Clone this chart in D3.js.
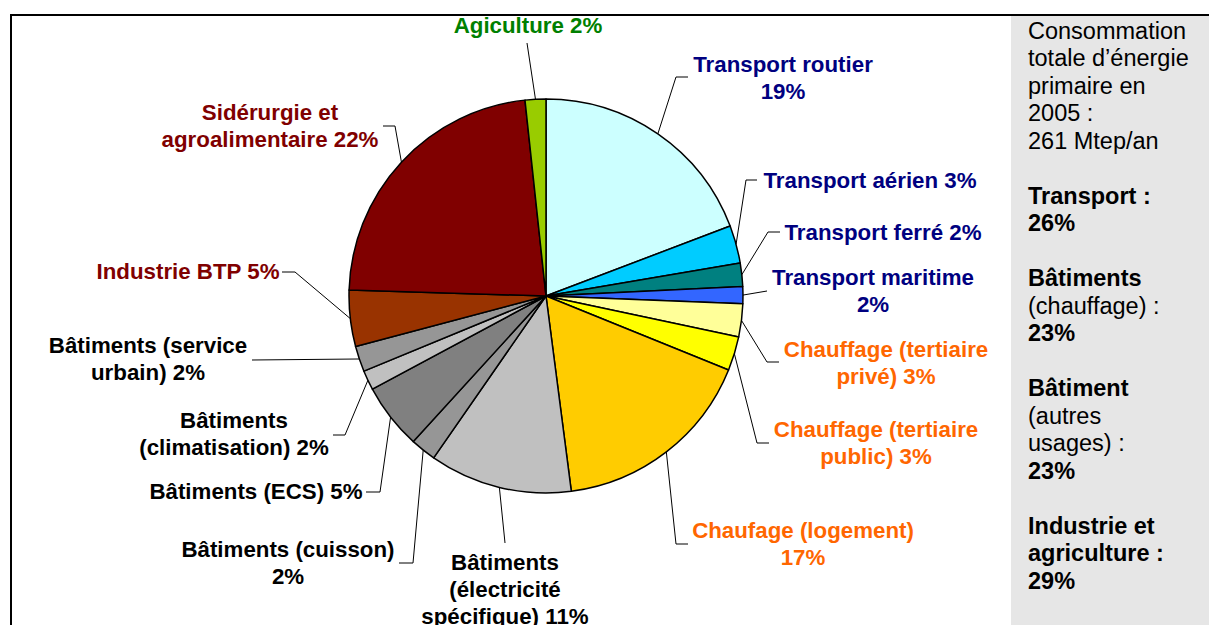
<!DOCTYPE html>
<html>
<head>
<meta charset="utf-8">
<script src="https://cdn.jsdelivr.net/npm/d3@7"></script>
<style>
  body { margin: 0; background: #fff; }
  svg text { font-family: "Liberation Sans", Arial, sans-serif; }
</style>
</head>
<body>
<div id="chart"></div>
<script>
// slices, clockwise from 12 o'clock
const categories = [
  "Transport routier", "Transport aérien", "Transport ferré", "Transport maritime",
  "Chauffage (tertiaire privé)", "Chauffage (tertiaire public)", "Chaufage (logement)",
  "Bâtiments (électricité spécifique)", "Bâtiments (cuisson)", "Bâtiments (ECS)",
  "Bâtiments (climatisation)", "Bâtiments (service urbain)",
  "Industrie BTP", "Sidérurgie et agroalimentaire", "Agiculture"
];
const values = [19.2, 3.1, 1.9, 1.4, 2.7, 2.8, 16.8, 11.7, 2.1, 5.4, 1.6, 2.1, 4.6, 22.8, 1.7];
const groups = [
  "transport", "transport", "transport", "transport",
  "chauffage", "chauffage", "chauffage",
  "batiment", "batiment", "batiment", "batiment", "batiment",
  "industrie", "industrie", "agriculture"
];
const labelLines = [
  ["Transport routier", "19%"],
  ["Transport aérien 3%"],
  ["Transport ferré 2%"],
  ["Transport maritime", "2%"],
  ["Chauffage (tertiaire", "privé) 3%"],
  ["Chauffage (tertiaire", "public) 3%"],
  ["Chaufage (logement)", "17%"],
  ["Bâtiments", "(électricité", "spécifique) 11%"],
  ["Bâtiments (cuisson)", "2%"],
  ["Bâtiments (ECS) 5%"],
  ["Bâtiments", "(climatisation) 2%"],
  ["Bâtiments (service", "urbain) 2%"],
  ["Industrie BTP 5%"],
  ["Sidérurgie et", "agroalimentaire 22%"],
  ["Agiculture 2%"]
];
const sideLines = [
  [{t: "Consommation"}], [{t: "totale d’énergie"}], [{t: "primaire en"}], [{t: "2005 :"}], [{t: "261 Mtep/an"}],
  [],
  [{t: "Transport :", b: true}], [{t: "26%", b: true}],
  [],
  [{t: "Bâtiments", b: true}], [{t: "(chauffage) :"}], [{t: "23%", b: true}],
  [],
  [{t: "Bâtiment", b: true}], [{t: "(autres"}], [{t: "usages) :"}], [{t: "23%", b: true}],
  [],
  [{t: "Industrie et", b: true}], [{t: "agriculture :", b: true}], [{t: "29%", b: true}]
];

// styles / layout
const sliceColors = ["#CCFFFF", "#00CCFF", "#008080", "#3366FF", "#FFFF99", "#FFFF00", "#FFCC00",
  "#C0C0C0", "#969696", "#808080", "#C0C0C0", "#969696", "#993300", "#800000", "#99CC00"];
const groupColor = {transport: "#000080", chauffage: "#FF6600", batiment: "#000000",
  industrie: "#800000", agriculture: "#008000"};
// label anchor (x centre, first baseline), elbow of leader, end of the short horizontal
const labelLayout = [
  {x: 783, y: 72, elbow: [676, 77], end: 688},
  {x: 870, y: 188, elbow: [746, 180], end: 757},
  {x: 883, y: 240, elbow: [768, 232], end: 780},
  {x: 873, y: 285, elbow: [767, 291], end: null},
  {x: 886, y: 357, elbow: [767, 362], end: 779},
  {x: 876, y: 437, elbow: [757, 443], end: 769},
  {x: 803, y: 538, elbow: [676, 544], end: 688},
  {x: 505, y: 570, elbow: [505, 543], end: null},
  {x: 288, y: 557, elbow: [413, 563], end: 399},
  {x: 256, y: 499, elbow: [380, 492], end: 366},
  {x: 234, y: 428, elbow: [345, 435], end: 333},
  {x: 148, y: 353, elbow: [252, 360], end: null},
  {x: 188, y: 279, elbow: [295, 272], end: 282},
  {x: 270, y: 120, elbow: [395, 126], end: 383},
  {x: 528, y: 33, elbow: [527, 43], end: null}
];

const W = 1209, H = 625;
const cx = 546, cy = 296, radius = 197;
const lineH = 27;

const svg = d3.select("#chart").append("svg")
  .attr("width", W).attr("height", H);

// side panel
svg.append("rect")
  .attr("x", 1011).attr("y", 16).attr("width", W - 1011).attr("height", H - 16)
  .attr("fill", "#E6E6E6");

// frame
svg.append("line").attr("x1", 10).attr("x2", W).attr("y1", 15).attr("y2", 15)
  .attr("stroke", "#000").attr("stroke-width", 2);
svg.append("line").attr("x1", 11).attr("x2", 11).attr("y1", 14).attr("y2", H)
  .attr("stroke", "#000").attr("stroke-width", 2);

const pie = d3.pie().sort(null).value(d => d);
const arcs = pie(values);
const arc = d3.arc().innerRadius(0).outerRadius(radius);
const edge = d3.arc().innerRadius(radius).outerRadius(radius);

const g = svg.append("g").attr("transform", `translate(${cx},${cy})`);

g.selectAll("path.slice")
  .data(arcs)
  .join("path")
    .attr("class", "slice")
    .attr("d", arc)
    .attr("fill", (d, i) => sliceColors[i])
    .attr("stroke", "#000")
    .attr("stroke-width", 1.5)
    .attr("stroke-linejoin", "round");

// leader lines
svg.selectAll("path.leader")
  .data(arcs)
  .join("path")
    .attr("class", "leader")
    .attr("fill", "none")
    .attr("stroke", "#000")
    .attr("stroke-width", 1)
    .attr("d", (d, i) => {
      const [px, py] = edge.centroid(d);
      const L = labelLayout[i];
      const pts = [[cx + px, cy + py], L.elbow];
      if (L.end !== null) pts.push([L.end, L.elbow[1]]);
      return d3.line()(pts);
    });

// labels
const labels = svg.selectAll("text.lbl")
  .data(arcs)
  .join("text")
    .attr("class", "lbl")
    .attr("text-anchor", "middle")
    .attr("font-size", 22.3)
    .attr("font-weight", "bold")
    .attr("fill", (d, i) => groupColor[groups[i]]);

labels.each(function(d, i) {
  const L = labelLayout[i];
  d3.select(this).selectAll("tspan")
    .data(labelLines[i])
    .join("tspan")
      .attr("x", L.x)
      .attr("y", (t, j) => L.y + j * lineH)
      .text(t => t);
});

// side text
const side = svg.append("g");
sideLines.forEach((parts, k) => {
  if (!parts.length) return;
  const t = side.append("text")
    .attr("x", 1028)
    .attr("y", 38.5 + k * 27.5)
    .attr("font-size", 23.5)
    .attr("fill", "#000");
  parts.forEach(p => {
    t.append("tspan").attr("font-weight", p.b ? "bold" : "normal").text(p.t);
  });
});
</script>
</body>
</html>
